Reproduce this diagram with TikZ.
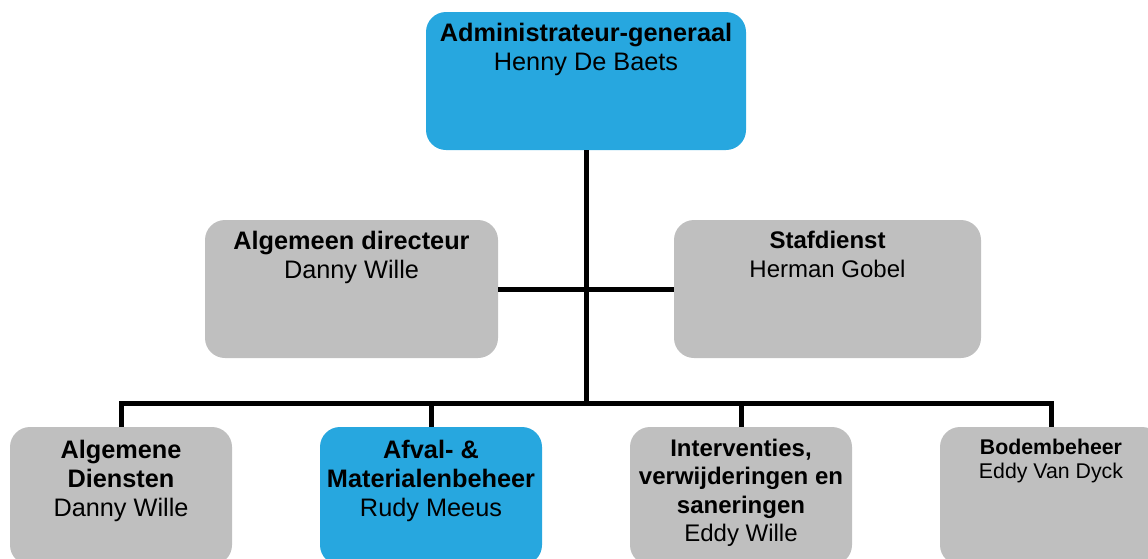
\documentclass[tikz,border=0pt]{standalone}
\usepackage{fontspec}
\setmainfont{Liberation Sans}
\definecolor{boxblue}{HTML}{27A7DF}
\definecolor{boxgray}{HTML}{BFBFBF}
\tikzset{
  orgbox/.style={rounded corners=20pt, inner sep=0pt, minimum height=138pt},
  bluebox/.style={orgbox, fill=boxblue},
  graybox/.style={orgbox, fill=boxgray},
  orgtext/.style={anchor=north, inner sep=0pt, align=center, font=\fontsize{25.3}{29}\selectfont},
  midtext/.style={anchor=north, inner sep=0pt, align=center, font=\fontsize{24}{28.5}\selectfont},
  smalltext/.style={anchor=north, inner sep=0pt, align=center, font=\fontsize{21.3}{24}\selectfont},
  conn/.style={line width=5pt, draw=black}
}
\begin{document}
\begin{tikzpicture}[x=1pt,y=-1pt]
\useasboundingbox (0,0) rectangle (1148,558);
\clip (0,0) rectangle (1148,558);
% boxes
\node[bluebox, minimum width=320pt] (ag) at (586,81) {};
\node[graybox, minimum width=293pt] (ad) at (351.5,289) {};
\node[graybox, minimum width=307pt] (sd) at (827.5,289) {};
\node[graybox, minimum width=222pt] (b1) at (121,496) {};
\node[bluebox, minimum width=222pt] (b2) at (431,496) {};
\node[graybox, minimum width=222pt] (b3) at (741,496) {};
\node[graybox, minimum width=222pt] (b4) at (1051,496) {};
% connectors
\coordinate (bus) at (586,403);
\draw[conn] (ag.south) -- (ag.south |- bus);
\draw[conn] (ad.east) -- (sd.west);
\draw[conn, line join=miter] (b1.north) -- (b1.north |- bus) -- (b4.north |- bus) -- (b4.north);
\draw[conn] (b2.north |- bus) -- (b2.north);
\draw[conn] (b3.north |- bus) -- (b3.north);
% texts
\node[orgtext] (tag) at ([yshift=-11pt]ag.north) {\textbf{Administrateur-generaal}\\Henny De Baets};
\node[orgtext] (tad) at ([yshift=-11pt]ad.north) {\textbf{Algemeen directeur}\\Danny Wille};
\node[midtext] (tsd) at ([yshift=-11.5pt]sd.north) {\textbf{Stafdienst}\\Herman Gobel};
\node[orgtext] (tb1) at ([yshift=-13pt]b1.north) {\textbf{Algemene}\\\textbf{Diensten}\\Danny Wille};
\node[orgtext] (tb2) at ([yshift=-13pt]b2.north) {\textbf{Afval- \&}\\\textbf{Materialenbeheer}\\Rudy Meeus};
\node[midtext] (tb3) at ([yshift=-12pt]b3.north) {\textbf{Interventies,}\\\textbf{verwijderingen en}\\\textbf{saneringen}\\Eddy Wille};
\node[smalltext] (tb4) at ([yshift=-12pt]b4.north) {\textbf{Bodembeheer}\\Eddy Van Dyck};
\end{tikzpicture}
\end{document}
